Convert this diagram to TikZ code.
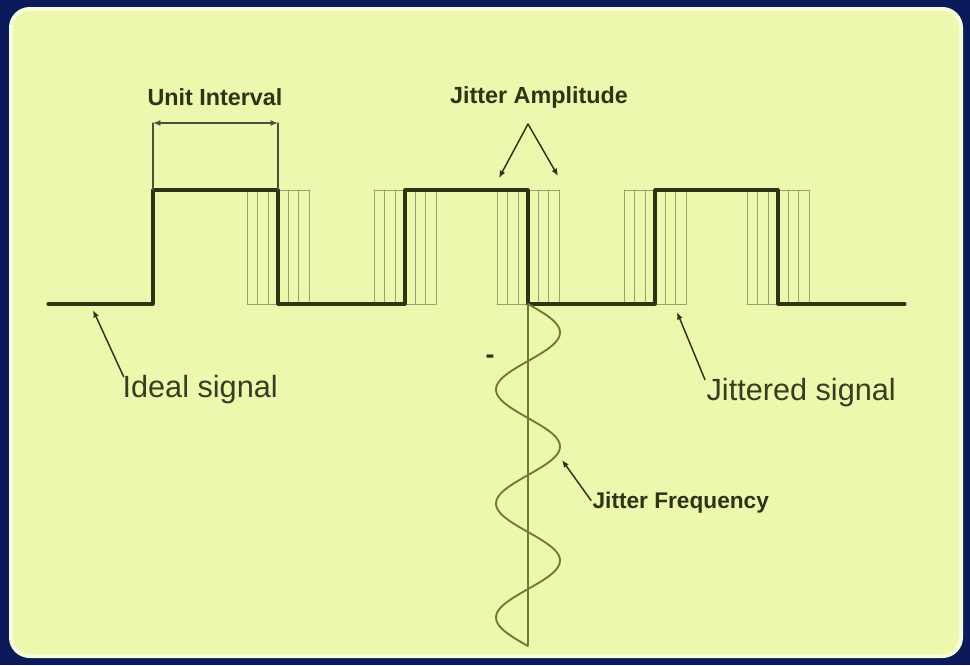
\documentclass[tikz,border=0pt]{standalone}
\usepackage{fontspec}
\setmainfont{Liberation Sans}
\usepackage{xcolor}
\definecolor{jbg}{HTML}{0B1A5A}
\definecolor{jpanel}{HTML}{EDF8AE}
\definecolor{jink}{HTML}{2C3414}
\definecolor{jolive}{HTML}{6F7B30}
\definecolor{jhatch}{HTML}{98A26A}
\usepackage{tikz}
\usetikzlibrary{arrows.meta,positioning}
\tikzset{
  >={Latex[length=5.5pt,width=4.5pt]},
  every picture/.style={line cap=round, line join=round},
  boldlbl/.style={font=\bfseries\fontsize{17.5}{20}\selectfont, text=jink, inner sep=1pt},
  lbl/.style={font=\fontsize{23}{26}\selectfont, text=jink!95, inner sep=1pt},
  ideal/.style={jink, line width=2.3pt},
  hatch/.style={jhatch, line width=0.75pt},
  wave/.style={jolive, line width=1.4pt},
  guide/.style={jink!85, line width=0.9pt},
  pointer/.style={jink, line width=1.1pt, ->},
}

\begin{document}
\begin{tikzpicture}[x=0.75pt, y=-0.75pt]
\useasboundingbox (0,0) rectangle (970,665);
% slide frame
\fill[jbg] (0,0) rectangle (970,665);
\draw[white!55!jpanel, line width=3pt, fill=jpanel, rounded corners=14pt] (11,9) rectangle (961,656);
% jitter bands round each edge
\foreach \e in {278,405,528,655,778} {
  \foreach \o in {-31,-20.5,-10,10,20.5,31}
    \draw[hatch] (\e+\o,190) -- (\e+\o,304);
  \draw[hatch] (\e-31,190) -- (\e+31,190);
  \draw[hatch] (\e-31,304) -- (\e+31,304);
}
% ideal signal
\draw[ideal] (48,304) -| (153,190) -| (278,304) -| (405,190) -| (528,304)
  -| (655,190) -| (778,304) -- (905,304);
% unit interval
\coordinate (uiL) at (153,123);
\coordinate (uiR) at (278,123);
\draw[guide] (uiL) -- (153,190);
\draw[guide] (uiR) -- (278,190);
\draw[guide, line width=1.3pt, <->] (uiL) -- (uiR);
\node[boldlbl] (unitlbl) at (215,97) {Unit Interval};
% jitter amplitude
\node[boldlbl] (amplbl) at (539,97) {Jitter Amplitude};
\coordinate (ampapex) at (528,124);
\coordinate (ampL) at (499,178);
\coordinate (ampR) at (558,176);
\draw[pointer] (ampapex) -- (ampL);
\draw[pointer] (ampapex) -- (ampR);
% jitter modulation, three periods of 114px
\draw[jolive, line width=1pt] (528,304) -- (528,645);
\draw[wave] plot[domain=0:1080, samples=150] ({528+32*sin(\x)}, {304+\x*0.3167});
\node[font=\bfseries\fontsize{20}{22}\selectfont, text=jink, inner sep=0pt] (dashmark) at (490,359) {-};
% labels and pointers
\node[lbl, anchor=west] (ideallbl) at (121,390) {Ideal signal};
\coordinate (idealtip) at (93,310);
\draw[pointer] ([xshift=2pt, yshift=-2pt]ideallbl.north west) -- (idealtip);
\node[lbl, anchor=west] (jitlbl) at (705,393) {Jittered signal};
\coordinate (jittip) at (677,312);
\draw[pointer] ([yshift=-2pt]jitlbl.north west) -- (jittip);
\node[font=\bfseries\fontsize{17}{20}\selectfont, text=jink, inner sep=1pt, anchor=west] (freqlbl) at (591,503) {Jitter Frequency};
\coordinate (freqtip) at (562,460);
\draw[pointer] ([yshift=2pt]freqlbl.west) -- (freqtip);
\end{tikzpicture}
\end{document}
